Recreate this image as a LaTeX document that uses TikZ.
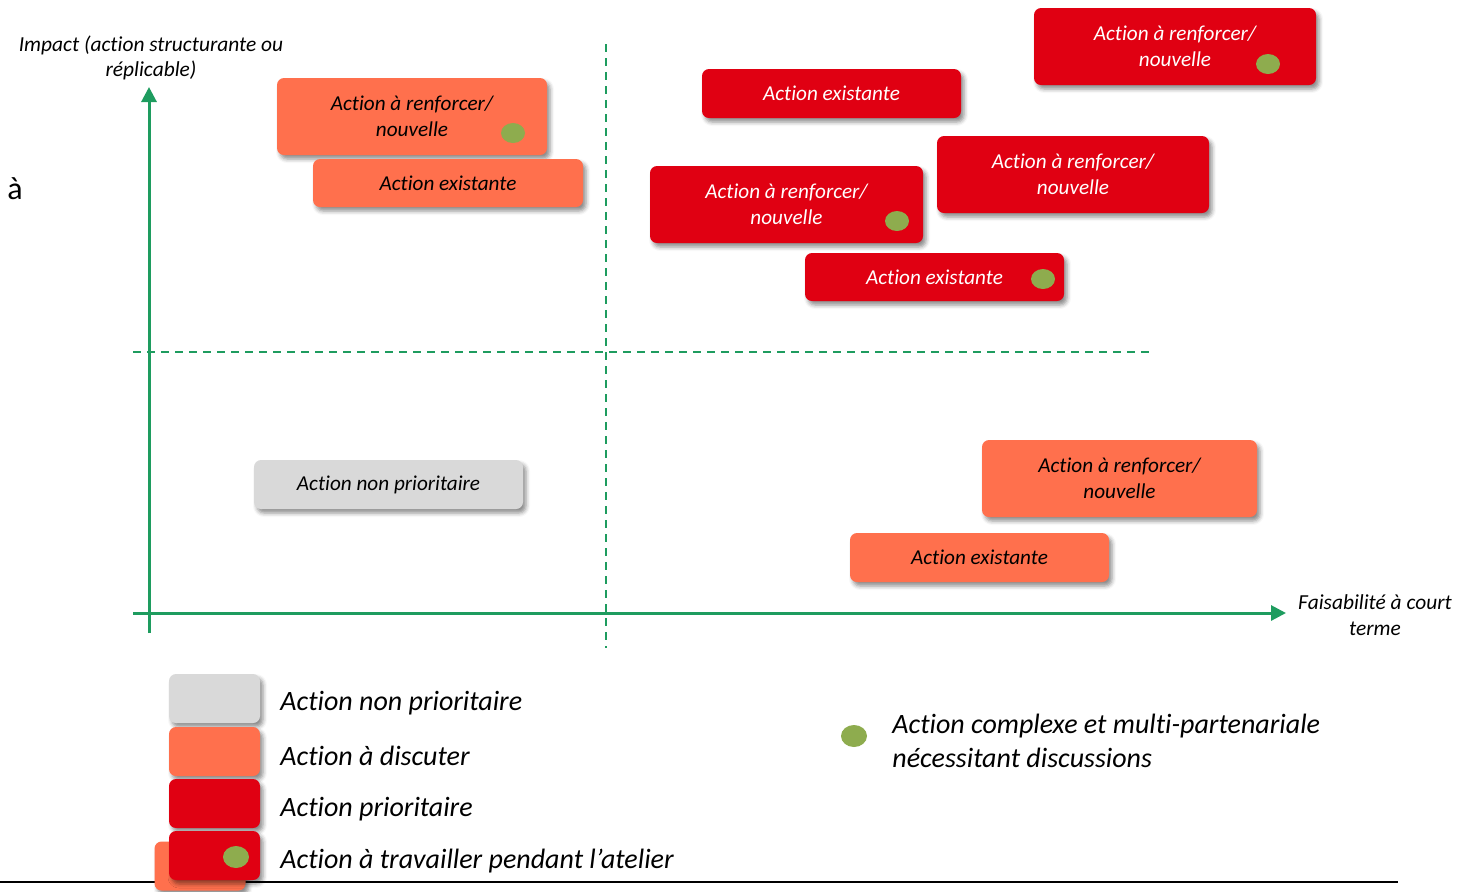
\documentclass[tikz,border=0pt]{standalone}
\usepackage{fontspec}
\setmainfont{Carlito}[Ligatures={NoCommon,NoContextual}]
\usetikzlibrary{arrows.meta,shadows.blur}
\definecolor{prioRed}{HTML}{E00012}
\definecolor{discutOrange}{HTML}{FF704D}
\definecolor{nonGrey}{HTML}{D9D9D9}
\definecolor{dotGreen}{HTML}{8EAC4E}
\definecolor{axisGreen}{HTML}{1E9C5F}
\begin{document}
\begin{tikzpicture}[x=0.5pt,y=-0.5pt]

    \tikzset{
      actbox/.style={
        rounded corners=3.5pt,
        inner sep=0pt,
        align=center,
        font=\fontsize{10.6}{13}\selectfont\itshape,
        blur shadow={shadow xshift=1.5pt,shadow yshift=-2pt,shadow blur radius=2pt,shadow opacity=45},
      },
      prio/.style={actbox,fill=prioRed,text=white},
      discut/.style={actbox,fill=discutOrange,text=black},
      nonprio/.style={actbox,fill=nonGrey,text=black},
      legbox/.style={actbox,minimum width=45.5pt,minimum height=24.5pt},
      legtext/.style={anchor=west,inner sep=0pt,align=left,font=\fontsize{14}{17}\selectfont\itshape},
      axislabel/.style={align=center,inner sep=0pt,font=\fontsize{10.7}{12.8}\selectfont\itshape},
      axisline/.style={draw=axisGreen,line width=1.5pt,-{Triangle[length=7.5pt,width=7.5pt]}},
      splitline/.style={draw=axisGreen,line width=1pt,dash pattern=on 4pt off 3pt},
    }
    \useasboundingbox (0,0) rectangle (1465,891);

	 % axes and quadrants
	 \coordinate (yfoot) at (149,633);
	 \coordinate (ytip) at (149,87);
	 \coordinate (xfoot) at (133,613);
	 \coordinate (xtip) at (1286,613);
	 \coordinate (vtop) at (606,44);
	 \coordinate (vbot) at (606,648);
	 \coordinate (hleft) at (133,352);
	 \coordinate (hright) at (1150,352);
	 \draw[splitline] (vtop) -- (vbot);
	 \draw[splitline] (hleft) -- (hright);
	 \draw[axisline] (yfoot) -- (ytip);
	 \draw[axisline] (xfoot) -- (xtip);

	 \node[axislabel] (ylabel) at (151,58) {Impact (action structurante ou\\r\'eplicable)};
	 \node[axislabel] (xlabel) at (1375,615) {Faisabilit\'e \`a court\\terme};
	 \node[inner sep=0pt,font=\fontsize{16}{18}\selectfont] (stray) at (15,189) {\`a};

	 % actions
	 \node[discut,minimum width=135pt,minimum height=38.5pt] (discutA) at (412,116.5) {Action \`a renforcer/\\nouvelle};
	 \node[discut,minimum width=135pt,minimum height=24pt] (discutB) at (448,183) {Action existante};
	 \node[prio,minimum width=129.5pt,minimum height=24.5pt] (prioC) at (831.5,93.5) {Action existante};
	 \node[prio,minimum width=141pt,minimum height=38.5pt] (prioD) at (1175,46.5) {Action \`a renforcer/\\nouvelle};
	 \node[prio,minimum width=136pt,minimum height=38.5pt] (prioE) at (1073,174.5) {Action \`a renforcer/\\nouvelle};
	 \node[prio,minimum width=136.5pt,minimum height=38.5pt] (prioF) at (786.5,204.5) {Action \`a renforcer/\\nouvelle};
	 \node[prio,minimum width=129.5pt,minimum height=24pt] (prioG) at (934.5,277) {Action existante};
	 \node[nonprio,minimum width=134.5pt,minimum height=24.5pt] (nonprioH) at (388.5,484.5) {Action non prioritaire};
	 \node[discut,minimum width=137.5pt,minimum height=38.5pt] (discutI) at (1119.5,478.5) {Action \`a renforcer/\\nouvelle};
	 \node[discut,minimum width=129.5pt,minimum height=24.5pt] (discutJ) at (979.5,557.5) {Action existante};

	 \fill[dotGreen] (513,133) ellipse (6pt and 5pt);
	 \fill[dotGreen] (1268,64) ellipse (6pt and 5pt);
	 \fill[dotGreen] (897,221) ellipse (6pt and 5pt);
	 \fill[dotGreen] (1043,279) ellipse (6pt and 5pt);

	 % legend
	 \coordinate (rulestart) at (0,882);
	 \coordinate (ruleend) at (1398,882);
	 \draw[line width=1pt] (rulestart) -- (ruleend);

	 \node[legbox,fill=nonGrey] (legnon) at (214.5,698.5) {};
	 \node[legbox,fill=discutOrange] (legdiscut) at (214.5,751.5) {};
	 \node[legbox,fill=prioRed] (legprio) at (214.5,803.5) {};
	 \node[legbox,fill=discutOrange] (legbehind) at (200,866) {};
	 \node[legbox,fill=prioRed] (legatelier) at (214.5,855.5) {};
	 \fill[dotGreen] (236,857) ellipse (6.5pt and 5.5pt);

	 \node[legtext] (txtnon) at (280,703) {Action non prioritaire};
	 \node[legtext] (txtdiscut) at (280,756) {Action \`a discuter};
	 \node[legtext] (txtprio) at (280,809) {Action prioritaire};
	 \node[legtext] (txtatelier) at (280,861) {Action \`a travailler pendant l’atelier};

	 \fill[dotGreen] (854,736) ellipse (6.5pt and 5.5pt);
	 \node[legtext] (txtcomplexe) at (892,741) {Action complexe et multi-partenariale\\n\'ecessitant discussions};

\end{tikzpicture}
\end{document}
